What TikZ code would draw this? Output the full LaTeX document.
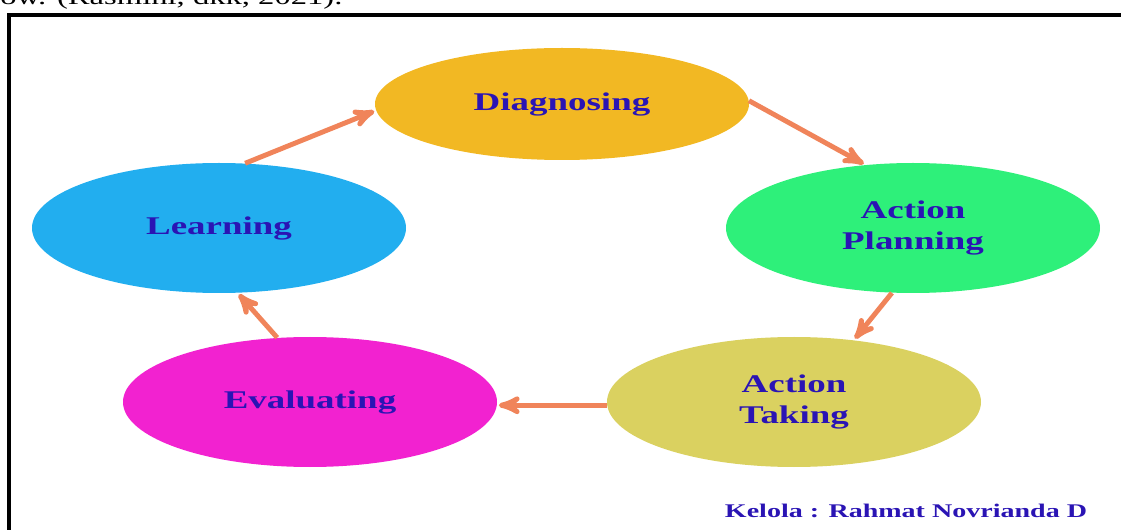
\documentclass[tikz,border=0pt]{standalone}
\usepackage{fontspec}
\setmainfont[FakeStretch=1.45]{Liberation Serif}
\usepackage{tikz}
\usetikzlibrary{arrows,positioning,shapes.geometric}

\definecolor{diagfill}{HTML}{F2B823}
\definecolor{planfill}{HTML}{2EF07A}
\definecolor{learnfill}{HTML}{22AEEF}
\definecolor{takefill}{HTML}{DAD160}
\definecolor{evalfill}{HTML}{F222D0}
\definecolor{labelblue}{HTML}{2A14B4}
\definecolor{arrowred}{HTML}{F0845A}

\begin{document}
\begin{tikzpicture}[>=stealth',shorten >=1pt,auto,node distance=2cm,on grid,
	phase/.style={ellipse,minimum width=7.48cm,minimum height=2.6cm,inner sep=0pt,
		text=labelblue,font=\bfseries\fontsize{14.5}{17.5}\selectfont,align=center},
	flow/.style={->,color=arrowred,line width=2.8pt}]
			\useasboundingbox (0,0) rectangle (22.42,-10.6);
			\clip (0,0) rectangle (22.42,-10.6);
			\node[anchor=base west,inner sep=0pt,font=\fontsize{12.8}{15}\selectfont] (cite) at (0,-0.1) {ow. (Rasmini, dkk, 2021).};
			\draw[line width=0.08cm] (0.18,-10.8) |- (22.6,-0.3);

  			\node[phase,fill=diagfill,minimum height=2.24cm] (diag) at (11.24,-2.08) {Diagnosing};
  			\node[phase,fill=planfill]  (plan)  [below right=2.48cm and 7.02cm of diag] {Action\\Planning};
  			\node[phase,fill=learnfill] (learn) [below left=2.48cm and 6.86cm of diag]  {Learning};
  			\node[phase,fill=takefill]  (take)  [below left=3.48cm and 2.38cm of plan]  {Action\\Taking};
  			\node[phase,fill=evalfill]  (eval)  [below right=3.48cm and 1.82cm of learn] {Evaluating};
  			\node[anchor=base,inner sep=0pt,text=labelblue,font=\bfseries\fontsize{11}{13}\selectfont] (credit) at (18.12,-10.34) {Kelola : Rahmat Novrianda D};


  			\path[flow] (learn.68) edge (diag.182)
        	         (diag.1)   edge (plan.127)
        	         (plan.252) edge (take.46)
        	         (take.181) edge (eval.359)
        	         (eval.117) edge (learn.286);

		\end{tikzpicture}
\end{document}
